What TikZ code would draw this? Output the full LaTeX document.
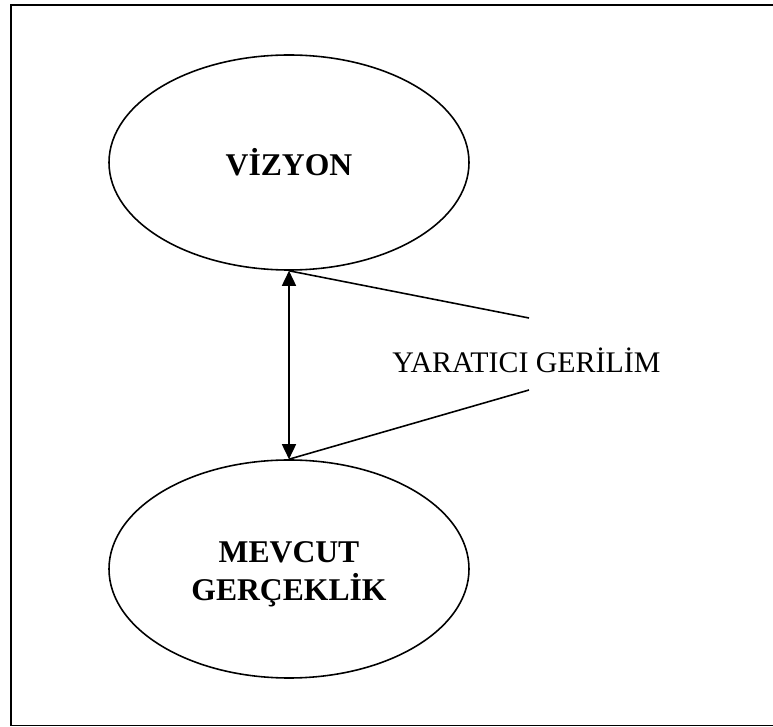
\documentclass[tikz,border=0pt]{standalone}
\usepackage{fontspec}
\setmainfont{Liberation Serif}
\usetikzlibrary{shapes.geometric,arrows.meta}

\begin{document}
\begin{tikzpicture}[
  oval/.style={ellipse, draw, line width=0.9pt, minimum width=7.2cm,
    minimum height=4.3cm, inner sep=0pt},
  yazi/.style={align=center, font=\fontsize{18}{21.8}\selectfont\bfseries},
  link/.style={line width=0.9pt},
  tri/.tip={Triangle[length=0.3cm,width=0.28cm]}
]
\useasboundingbox (0,0) rectangle (15.46,14.54);

% frame, open at the right edge
\draw[line width=1.1pt] (16,0.03) -- (0.22,0.03) -- (0.22,14.44) -- (16,14.44);

\node[oval] (vizyon) at (5.78,11.29) {};
\node[yazi] (vizyonyazi) at (vizyon.center) {VİZYON};
\node[oval, minimum height=4.36cm] (mevcut) at (5.78,3.16) {};
\node[yazi] (mevcutyazi) at ([yshift=-0.1cm]mevcut.center) {MEVCUT\\GERÇEKLİK};

\node[font=\fontsize{17}{20}\selectfont, anchor=base west, inner sep=0pt] (gerilim) at (7.84,7.08) {YARATICI GERİLİM};
\coordinate (ust) at (10.58,8.18);
\coordinate (alt) at (10.58,6.74);

\draw[link, tri-tri] (vizyon.south) -- (mevcut.north);
\draw[link] (vizyon.south) -- (ust);
\draw[link] (mevcut.north) -- (alt);
\end{tikzpicture}
\end{document}
